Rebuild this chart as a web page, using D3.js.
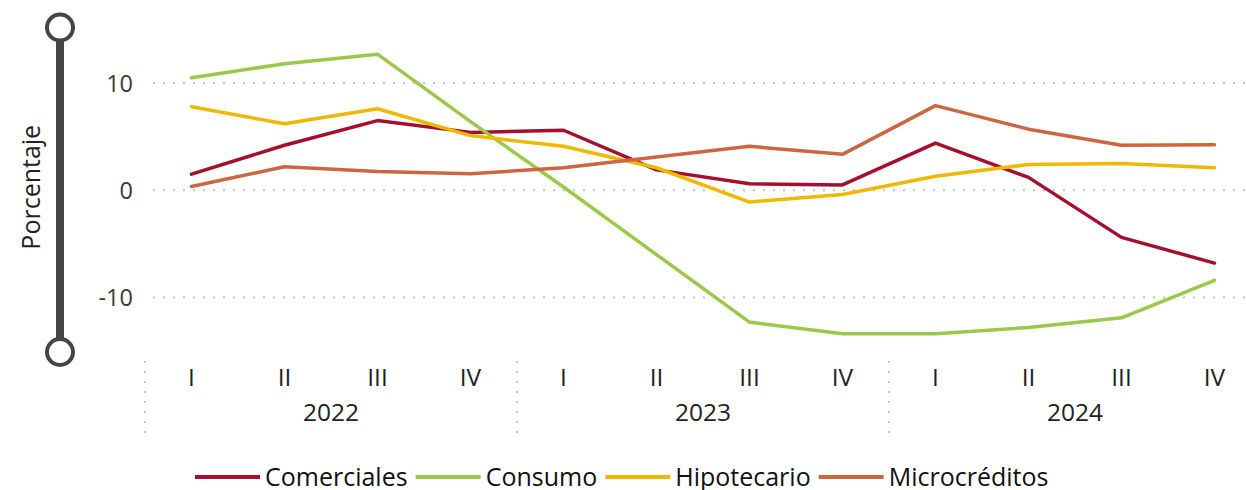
<!DOCTYPE html>
<html>
<head>
<meta charset="utf-8">
<script src="https://cdn.jsdelivr.net/npm/d3@7.9.0/dist/d3.min.js"></script>
<style>
  body { margin: 0; background: #fff; }
  svg { display: block; font-family: "Open Sans", sans-serif; }
</style>
</head>
<body>
<svg id="chart" width="1246" height="490"></svg>
<script>
// quarters and years on the x axis
const quarters = ["I", "II", "III", "IV"];
const years = ["2022", "2023", "2024"];
const yTicks = [-10, 0, 10];

// series values (percent), one per quarter from 2022-I to 2024-IV
const comerciales = [1.5, 4.2, 6.5, 5.4, 5.6, 1.9, 0.6, 0.5, 4.4, 1.2, -4.4, -6.8];
const consumo = [10.5, 11.8, 12.7, 6.4, 0.3, -6.0, -12.3, -13.4, -13.4, -12.8, -11.9, -8.4];
const hipotecario = [7.8, 6.2, 7.6, 5.1, 4.1, 2.1, -1.1, -0.4, 1.3, 2.4, 2.5, 2.1];
const microcreditos = [0.35, 2.2, 1.75, 1.55, 2.1, 3.1, 4.1, 3.35, 7.9, 5.7, 4.2, 4.25];

const seriesNames = ["Comerciales", "Consumo", "Hipotecario", "Microcréditos"];
const seriesColors = ["#a50f2d", "#9cc84a", "#f0b800", "#cd6640"];
const seriesValues = [comerciales, consumo, hipotecario, microcreditos];

const keys = years.flatMap(y => quarters.map(q => y + "-" + q));

const svg = d3.select("#chart");

const x = d3.scaleBand().domain(keys).range([145, 1261]);
const y = d3.scaleLinear().domain([-15, 15]).range([351, 29.5]);

// dotted gridlines
svg.append("g")
  .selectAll("line")
  .data(yTicks)
  .join("line")
  .attr("x1", 153).attr("x2", 1246)
  .attr("y1", d => y(d)).attr("y2", d => y(d))
  .attr("stroke", "#c4c4c4")
  .attr("stroke-width", 2)
  .attr("stroke-dasharray", "2,8");

// y tick labels
svg.append("g")
  .selectAll("text")
  .data(yTicks)
  .join("text")
  .attr("x", 133)
  .attr("y", d => y(d))
  .attr("dy", "0.36em")
  .attr("text-anchor", "end")
  .attr("font-size", 23.5)
  .attr("fill", "#3a3a3a")
  .text(d => d);

// y axis bar with round ends
const axisG = svg.append("g");
axisG.append("line")
  .attr("x1", 60).attr("x2", 60)
  .attr("y1", y(15)).attr("y2", y(-15))
  .attr("stroke", "#474544")
  .attr("stroke-width", 8);
axisG.selectAll("circle")
  .data([15, -15])
  .join("circle")
  .attr("cx", 60)
  .attr("cy", d => y(d) + (d > 0 ? -2 : 1))
  .attr("r", 13)
  .attr("fill", "#fff")
  .attr("stroke", "#474544")
  .attr("stroke-width", 4);

svg.append("text")
  .attr("transform", `translate(40,${y(0) - 3}) rotate(-90)`)
  .attr("text-anchor", "middle")
  .attr("font-size", 25)
  .attr("fill", "#222")
  .text("Porcentaje");

// x axis: quarter labels, year labels, dotted separators
svg.append("g")
  .selectAll("text")
  .data(keys)
  .join("text")
  .attr("x", d => x(d) + x.bandwidth() / 2)
  .attr("y", 386)
  .attr("text-anchor", "middle")
  .attr("font-size", 24.5)
  .attr("fill", "#222")
  .text(d => d.split("-")[1]);

svg.append("g")
  .selectAll("text")
  .data(years)
  .join("text")
  .attr("x", d => x(d + "-II") + x.bandwidth())
  .attr("y", 421)
  .attr("text-anchor", "middle")
  .attr("font-size", 24.5)
  .attr("fill", "#222")
  .text(d => d);

svg.append("g")
  .selectAll("line")
  .data(years)
  .join("line")
  .attr("x1", d => x(d + "-I")).attr("x2", d => x(d + "-I"))
  .attr("y1", 361).attr("y2", 436)
  .attr("stroke", "#c4c4c4")
  .attr("stroke-width", 2)
  .attr("stroke-dasharray", "2,8");

// series lines
const line = d3.line()
  .x((d, i) => x(keys[i]) + x.bandwidth() / 2)
  .y(d => y(d));

svg.append("g")
  .selectAll("path")
  .data(seriesValues)
  .join("path")
  .attr("d", d => line(d))
  .attr("fill", "none")
  .attr("stroke", (d, i) => seriesColors[i])
  .attr("stroke-width", 3.5)
  .attr("stroke-linejoin", "round")
  .attr("stroke-linecap", "round");

// legend
const legend = svg.append("g").attr("transform", "translate(195,477)");
let lx = 0;
seriesNames.forEach((name, i) => {
  legend.append("line")
    .attr("x1", lx).attr("x2", lx + 65)
    .attr("y1", 0).attr("y2", 0)
    .attr("stroke", seriesColors[i])
    .attr("stroke-width", 4);
  const t = legend.append("text")
    .attr("x", lx + 70)
    .attr("y", 8.5)
    .attr("font-size", 25)
    .attr("fill", "#111")
    .text(name);
  lx += 70 + t.node().getComputedTextLength() + 8;
});
</script>
</body>
</html>
